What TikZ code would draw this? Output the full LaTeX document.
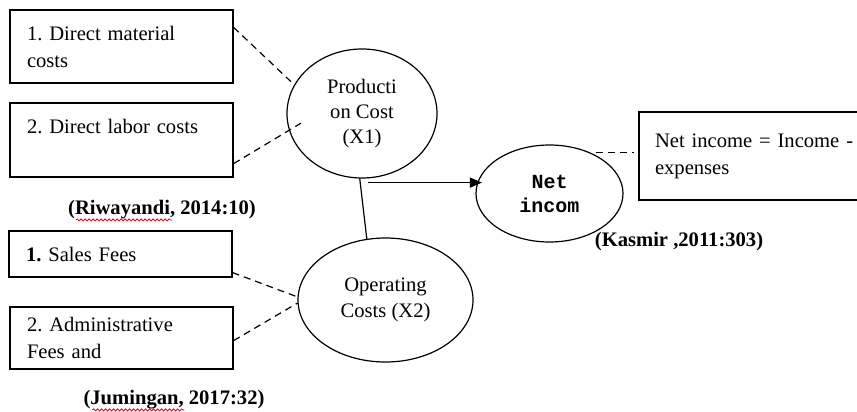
\documentclass[tikz,border=0pt]{standalone}
\usepackage{fontspec}
\setmainfont{Liberation Serif}
\setmonofont{Liberation Mono}
\usetikzlibrary{shapes.geometric,calc,arrows.meta,decorations.pathmorphing}

\begin{document}
\frenchspacing
\begin{tikzpicture}
[x=0.5pt,y=-0.5pt,
  boxDecorate/.style={shape=rectangle,draw,line width=0.6pt,align=left,text width=94.5pt,inner xsep=8.5pt,inner ysep=0pt,minimum width=111.5pt},%
  ellipseDecorate/.style={shape=ellipse,draw,line width=0.6pt,inner sep=0pt,align=center,font=\fontsize{10.3}{12.7}\selectfont},%
  citeDecorate/.style={font=\bfseries},%
  dashDecorate/.style={dash pattern=on 3.5pt off 2.5pt,line width=0.6pt},%
  arrowDecorate/.style={-{Triangle[length=6pt,width=5pt]},line width=0.6pt},%
  spellDecorate/.style={red,line width=0.4pt,decorate,decoration={snake,amplitude=0.5pt,segment length=2pt}}]
\fontsize{10.3}{13.5}\selectfont
\useasboundingbox (0,0) rectangle (857,412);
%% boxes of the cost items
\foreach \nodename/\x/\y/\h/\txt in {B1/121.5/46.5/36.5/{1. Direct material\\costs}, B2/121.5/140/37/{2. Direct labor costs\\\mbox{}}, B3/120.5/254/23/{\textbf{1.} Sales Fees}, B4/121.5/338/31/{2. Administrative\\Fees and}}
{
  \node (\nodename) at (\x,\y) [boxDecorate,minimum height=\h pt] {\txt};
}
%% variables
\node (P) at (362,113.5) [ellipseDecorate,minimum width=75pt,minimum height=64.5pt] {Producti\\on Cost\\(X1)};
\node (O) at (385.5,300) [ellipseDecorate,minimum width=87.5pt,minimum height=62pt] {Operating\\Costs (X2)};
\node (N) at (549.5,193.5) [ellipseDecorate,minimum width=73.5pt,minimum height=48.5pt,font=\ttfamily\bfseries\fontsize{10}{12}\selectfont] {Net\\incom};
\node (formula) at (759.5,156) [boxDecorate,text width=104.5pt,inner xsep=8pt,minimum width=120.5pt,minimum height=44pt] {Net income = Income -\\expenses};
%% sources
\node (cite1) at (162,210) [citeDecorate] {(Riwayandi, 2014:10)};
\node (cite2) at (174,400) [citeDecorate] {(Jumingan, 2017:32)};
\node (cite3) at (679,242) [citeDecorate] {(Kasmir ,2011:303)};
\draw[spellDecorate] ($(cite1.base west)+(15,5)$) -- ++(96,0);
\draw[spellDecorate] ($(cite2.base west)+(16,5)$) -- ++(92,0);
%% edges or lines
\coordinate (arrowStart) at ($(P.south)+(6,4)$);
\coordinate (netEnd) at (N.45 -| formula.west);
\path
($(B1.north east)+(0,18)$) edge[dashDecorate] (P.157)
($(B2.south east)+(0,-14)$) edge[dashDecorate,shorten >=-7pt] (P.193)
($(B3.south east)+(0,-5)$) edge[dashDecorate] (O.178)
($(B4.south east)+(0,-29)$) edge[dashDecorate] (O.182)
(P.268) edge[line width=0.6pt] (O.107)
(N.45) edge[dashDecorate,shorten <=3pt,shorten >=2pt] (netEnd);
\draw[arrowDecorate,shorten >=-2pt] (arrowStart) -- (arrowStart -| N.170);
\end{tikzpicture}
\end{document}
